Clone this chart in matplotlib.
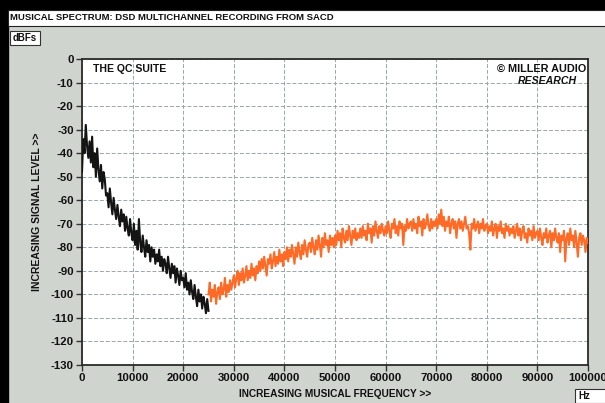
import numpy as np
import matplotlib
matplotlib.use("Agg")
import matplotlib.pyplot as plt
from matplotlib.patches import Rectangle

# ---- data ----
black_start_hz = 0
orange_start_hz = 25000
step_hz = 250

black_db = [
    -48, -34, -40, -28, -37, -42, -35, -44, -33, -46, -40, -50, -38, -47, -52, -45, -55, -48, -51, -58,
    -57, -63, -55, -61, -66, -59, -64, -68, -62, -67, -71, -64, -69, -66, -73, -67, -72, -75, -68, -74,
    -77, -70, -79, -73, -81, -68, -78, -82, -75, -80, -84, -77, -82, -79, -86, -80, -84, -81, -87, -83,
    -86, -81, -88, -84, -90, -85, -87, -91, -84, -89, -93, -87, -91, -88, -95, -89, -92, -96, -90, -94,
    -93, -97, -91, -98, -95, -100, -94, -99, -102, -96, -101, -105, -98, -103, -100, -106, -101, -104, -108, -102, -107,
]

orange_db = [
    -100, -95, -103, -98, -101, -96, -104, -99, -97, -102, -95, -100, -98, -93, -101, -96, -99, -94, -98, -95,
    -92, -97, -93, -90, -96, -91, -94, -89, -95, -92, -88, -94, -90, -93, -87, -92, -89, -94, -88, -91,
    -86, -90, -85, -89, -84, -88, -92, -85, -87, -83, -89, -86, -82, -88, -84, -87, -81, -86, -83, -88,
    -82, -85, -80, -86, -81, -84, -79, -83, -87, -80, -84, -78, -82, -85, -79, -83, -77, -81, -84, -79,
    -78, -82, -76, -80, -83, -77, -81, -75, -79, -84, -76, -80, -74, -79, -77, -82, -75, -79, -76, -80,
    -75, -79, -73, -77, -74, -80, -72, -76, -78, -73, -77, -71, -75, -79, -73, -76, -72, -77, -74, -76,
    -72, -76, -71, -75, -73, -77, -70, -74, -72, -78, -71, -75, -69, -73, -76, -71, -74, -70, -73, -75,
    -71, -74, -69, -73, -76, -70, -72, -68, -74, -71, -75, -69, -72, -70, -79, -71, -73, -68, -72, -70,
    -69, -73, -68, -72, -70, -74, -67, -71, -69, -75, -68, -72, -70, -66, -71, -73, -68, -72, -69, -71,
    -68, -72, -66, -70, -64, -71, -67, -73, -69, -71, -67, -74, -70, -68, -72, -69, -76, -70, -68, -72,
    -69, -73, -70, -67, -72, -71, -74, -81, -70, -72, -68, -73, -71, -69, -74, -70, -72, -68, -73, -71,
    -70, -74, -71, -73, -69, -75, -72, -70, -76, -71, -73, -69, -74, -72, -76, -70, -73, -71, -75, -72,
    -74, -71, -76, -73, -70, -75, -72, -77, -73, -71, -76, -74, -78, -72, -75, -73, -77, -71, -76, -74,
    -73, -77, -72, -76, -79, -74, -76, -72, -78, -75, -73, -80, -74, -77, -72, -76, -78, -74, -82, -75,
    -77, -73, -86, -76, -74, -79, -72, -77, -75, -80, -73, -78, -84, -76, -74, -79, -75, -77, -82, -76,
    -78,
]

x_ticks = [0, 10000, 20000, 30000, 40000, 50000, 60000, 70000, 80000, 90000, 100000]
y_ticks = [0, -10, -20, -30, -40, -50, -60, -70, -80, -90, -100, -110, -120, -130]

title = "MUSICAL SPECTRUM: DSD MULTICHANNEL RECORDING FROM SACD"

FONT = "Liberation Sans"

# ---- figure ----
W, H = 605, 403
fig = plt.figure(figsize=(W / 100, H / 100), dpi=100)
bg = "#cfd4ce"
fig.patch.set_facecolor(bg)

# black scan borders
fig.add_artist(Rectangle((0, 1 - 9 / H), 1, 9 / H, transform=fig.transFigure, color="black", zorder=0))
fig.add_artist(Rectangle((0, 0), 8 / W, 1, transform=fig.transFigure, color="black", zorder=0))
# title bar
fig.add_artist(Rectangle((8 / W, 1 - 26 / H), 1, 16 / H, transform=fig.transFigure,
                         facecolor="white", edgecolor="#222222", lw=0.8, zorder=1))
fig.text(10 / W, 1 - 18 / H, title, fontsize=6.8, fontweight="bold", family=FONT,
         va="center", ha="left", color="#111111")

# dBFs box
fig.add_artist(Rectangle((10 / W, 1 - 45 / H), 30 / W, 14 / H, transform=fig.transFigure,
                         facecolor="white", edgecolor="#333333", lw=0.8, zorder=1))
fig.text(13 / W, 1 - 38 / H, "dBFs", fontsize=7, fontweight="bold", family=FONT,
         va="center", ha="left", color="#111111")

# Hz box
fig.add_artist(Rectangle((575 / W, 0), 40 / W, 14 / H, transform=fig.transFigure,
                         facecolor="white", edgecolor="#333333", lw=0.8, zorder=1))
fig.text(578 / W, 7 / H, "Hz", fontsize=7, fontweight="bold", family=FONT,
         va="center", ha="left", color="#111111")

# axes
left, right, top, bottom = 82, 588, 59, 365
ax = fig.add_axes([left / W, 1 - bottom / H, (right - left) / W, (bottom - top) / H])
ax.set_facecolor("white")

bx = [black_start_hz + i * step_hz for i in range(len(black_db))]
ox = [orange_start_hz + i * step_hz for i in range(len(orange_db))]
ax.plot(ox, orange_db, color="#ff6a26", lw=1.5, zorder=3)
ax.plot(bx, black_db, color="#141414", lw=1.5, zorder=4)

ax.set_xlim(0, 100000)
ax.set_ylim(-130, 0)
ax.set_xticks(x_ticks)
ax.set_yticks(y_ticks)
ax.set_xticklabels([str(t) for t in x_ticks])
ax.set_yticklabels([str(t) for t in y_ticks])
for lab in ax.get_xticklabels() + ax.get_yticklabels():
    lab.set_fontfamily(FONT)
    lab.set_fontweight("bold")
    lab.set_fontsize(8.2)
    lab.set_color("#111111")
ax.tick_params(direction="out", length=4, width=1, color="#333333", pad=2)
ax.grid(True, color="#9aa6a6", linestyle=(0, (4, 2)), lw=0.7)
ax.set_axisbelow(True)
for s in ax.spines.values():
    s.set_color("#2a2a2a")
    s.set_linewidth(1.3)

ax.set_xlabel("INCREASING MUSICAL FREQUENCY >>", fontsize=7.3, fontweight="bold",
              family=FONT, color="#111111", labelpad=4)
ax.set_ylabel("INCREASING SIGNAL LEVEL >>", fontsize=7.5, fontweight="bold",
              family=FONT, color="#111111", labelpad=6)

ax.text(0.022, 0.985, "THE QC SUITE", transform=ax.transAxes, fontsize=7.6,
        fontweight="bold", family=FONT, va="top", ha="left", color="#111111")
ax.text(0.997, 0.985, "\u00a9 MILLER AUDIO", transform=ax.transAxes, fontsize=7.8,
        fontweight="bold", family=FONT, va="top", ha="right", color="#111111")
ax.text(0.978, 0.945, "RESEARCH", transform=ax.transAxes, fontsize=7.6,
        fontweight="bold", fontstyle="italic", family=FONT, va="top", ha="right", color="#111111")

fig.savefig("out.png", dpi=100, facecolor=fig.get_facecolor())
